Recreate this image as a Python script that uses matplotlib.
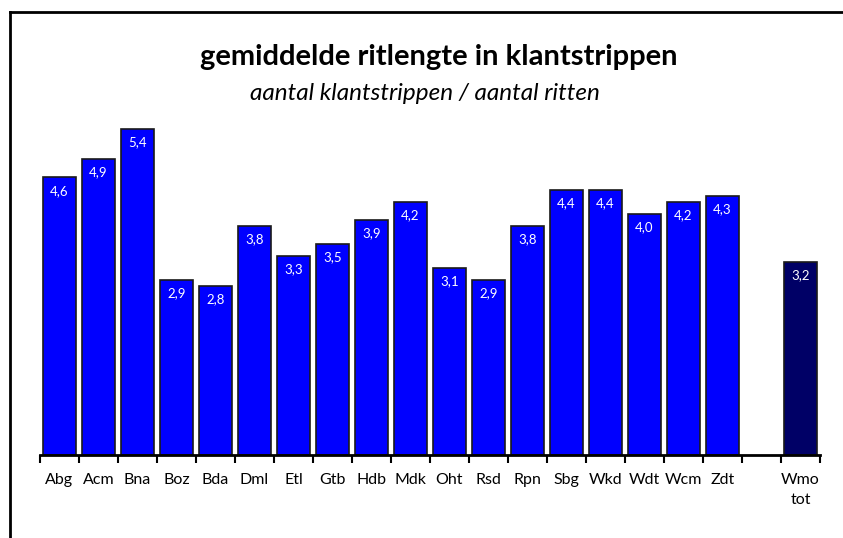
import matplotlib
matplotlib.use("Agg")
import matplotlib.pyplot as plt
from matplotlib.lines import Line2D

categories = ["Abg", "Acm", "Bna", "Boz", "Bda", "Dml", "Etl", "Gtb", "Hdb", "Mdk",
              "Oht", "Rsd", "Rpn", "Sbg", "Wkd", "Wdt", "Wcm", "Zdt", "", "Wmo\ntot"]
values = [4.6, 4.9, 5.4, 2.9, 2.8, 3.8, 3.3, 3.5, 3.9, 4.2,
          3.1, 2.9, 3.8, 4.4, 4.4, 4.0, 4.2, 4.3, None, 3.2]
title = "gemiddelde ritlengte in klantstrippen"
subtitle = "aantal klantstrippen / aantal ritten"

plt.rcParams['font.family'] = ['Lato', 'DejaVu Sans']

W, H = 843, 538
fig = plt.figure(figsize=(W / 100, H / 100), dpi=100)
ax = fig.add_axes([40 / W, 1 - 455 / H, 780 / W, 362 / H])

for i, (c, v) in enumerate(zip(categories, values)):
    if v is None:
        continue
    color = "#000066" if c.startswith("Wmo") else "#0000FF"
    ax.bar(i, v, width=0.87, color=color, edgecolor="#1a1a1a", linewidth=1.2)
    ax.text(i, v - 0.12, f"{v:.1f}".replace(".", ","), ha="center", va="top",
            color="white", fontsize=9.5)

ax.set_xlim(-0.5, len(categories) - 0.5)
ax.set_ylim(0, 6)
for s in ["top", "right", "left"]:
    ax.spines[s].set_visible(False)
ax.spines["bottom"].set_linewidth(2)
ax.set_yticks([])
ax.set_xticks([i + 0.5 for i in range(-1, len(categories))], minor=False)
ax.set_xticklabels([])
ax.tick_params(axis="x", direction="out", length=6, width=1.5)
for i, c in enumerate(categories):
    ax.text(i, -0.30, c, ha="center", va="top", fontsize=11.5, linespacing=1.5)

fig.text(0.5 * (200 + 678) / W, 1 - 57 / H, title, ha="center", va="center",
         fontsize=21, fontweight="bold")
fig.text(0.5 * (223 + 627) / W, 1 - 94 / H, subtitle, ha="center", va="center",
         fontsize=17.5, style="italic")

fig.add_artist(Line2D([10 / W, 10 / W], [0, 1 - 12 / H], color="black", lw=2,
                      transform=fig.transFigure))
fig.add_artist(Line2D([10 / W, 1], [1 - 12 / H, 1 - 12 / H], color="black", lw=2,
                      transform=fig.transFigure))

fig.savefig("out.png", dpi=100)
